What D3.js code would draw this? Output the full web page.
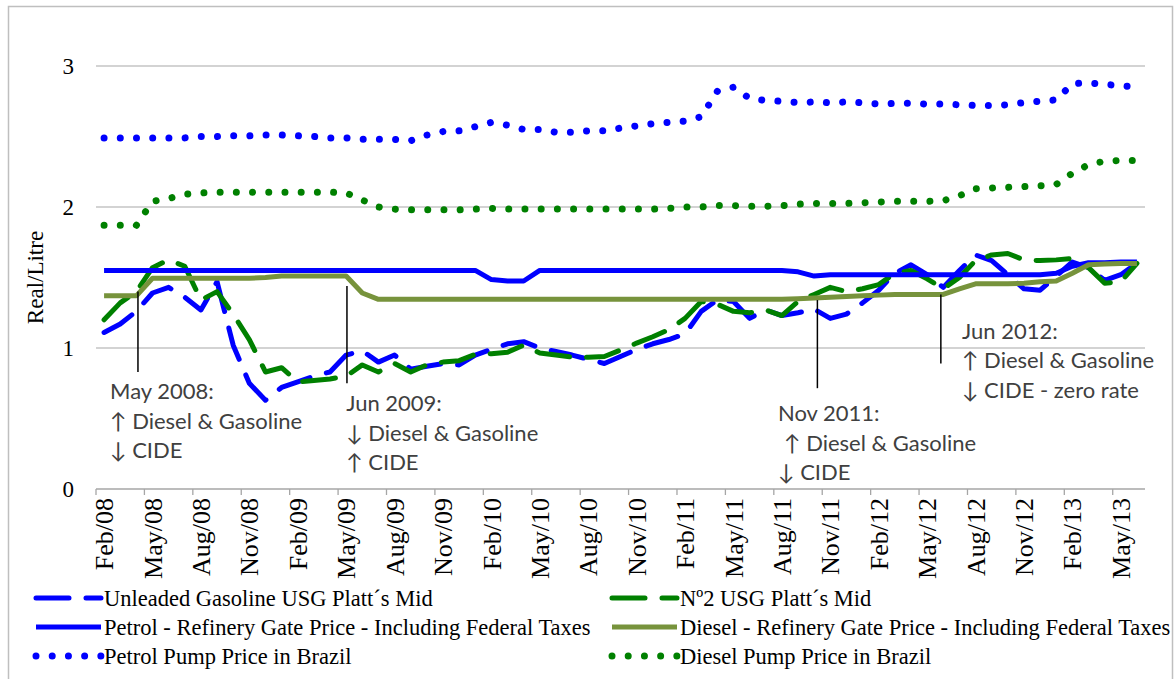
<!DOCTYPE html>
<html>
<head>
<meta charset="utf-8">
<script src="https://cdn.jsdelivr.net/npm/d3@7"></script>
<style>
  body { margin: 0; background: #fff; }
  svg { display: block; }
</style>
</head>
<body>
<svg></svg>
<script>
// Monthly categories Feb/08 .. Jun/13
const months = d3.timeMonth.range(new Date(2008, 1, 1), new Date(2013, 6, 1))
const tickLabels = ['Feb/08', 'May/08', 'Aug/08', 'Nov/08', 'Feb/09', 'May/09', 'Aug/09', 'Nov/09',
    'Feb/10', 'May/10', 'Aug/10', 'Nov/10', 'Feb/11', 'May/11', 'Aug/11', 'Nov/11',
    'Feb/12', 'May/12', 'Aug/12', 'Nov/12', 'Feb/13', 'May/13']
const yTicks = [0, 1, 2, 3]

const unleadedPlatts = [1.11, 1.17, 1.26, 1.39, 1.43, 1.36, 1.27, 1.47, 1.02, 0.75,
    0.63, 0.72, 0.76, 0.80, 0.83, 0.95, 0.98, 0.90, 0.95, 0.85,
    0.87, 0.89, 0.88, 0.95, 0.99, 1.03, 1.045, 1.00, 0.975, 0.95,
    0.92, 0.89, 0.94, 0.99, 1.03, 1.06, 1.10, 1.26, 1.34, 1.33,
    1.21, 1.27, 1.23, 1.25, 1.275, 1.21, 1.24, 1.32, 1.41, 1.53,
    1.59, 1.52, 1.43, 1.55, 1.66, 1.62, 1.52, 1.42, 1.41, 1.51,
    1.61, 1.57, 1.48, 1.52, 1.60]
const no2Platts = [1.20, 1.32, 1.40, 1.57, 1.625, 1.58, 1.34, 1.40, 1.24, 1.06,
    0.83, 0.86, 0.76, 0.77, 0.78, 0.80, 0.88, 0.83, 0.89, 0.83,
    0.88, 0.90, 0.91, 0.955, 0.96, 0.97, 1.02, 0.965, 0.95, 0.935,
    0.935, 0.94, 0.985, 1.035, 1.08, 1.13, 1.21, 1.33, 1.31, 1.26,
    1.25, 1.27, 1.23, 1.33, 1.38, 1.43, 1.40, 1.42, 1.45, 1.53,
    1.55, 1.49, 1.42, 1.50, 1.62, 1.66, 1.67, 1.625, 1.62, 1.625,
    1.635, 1.57, 1.46, 1.47, 1.60]
const petrolGate = [1.55, 1.55, 1.55, 1.55, 1.55, 1.55, 1.55, 1.55, 1.55, 1.55,
    1.55, 1.55, 1.55, 1.55, 1.55, 1.55, 1.55, 1.55, 1.55, 1.55,
    1.55, 1.55, 1.55, 1.55, 1.485, 1.475, 1.475, 1.55, 1.55, 1.55,
    1.55, 1.55, 1.55, 1.55, 1.55, 1.55, 1.55, 1.55, 1.55, 1.55,
    1.55, 1.55, 1.55, 1.54, 1.51, 1.52, 1.52, 1.52, 1.52, 1.52,
    1.52, 1.52, 1.52, 1.52, 1.52, 1.52, 1.52, 1.52, 1.52, 1.53,
    1.58, 1.605, 1.605, 1.61, 1.61]
const dieselGate = [1.37, 1.37, 1.37, 1.495, 1.495, 1.495, 1.495, 1.495, 1.495, 1.495,
    1.50, 1.51, 1.51, 1.51, 1.51, 1.51, 1.39, 1.345, 1.345, 1.345,
    1.345, 1.345, 1.345, 1.345, 1.345, 1.345, 1.345, 1.345, 1.345, 1.345,
    1.345, 1.345, 1.345, 1.345, 1.345, 1.345, 1.345, 1.345, 1.345, 1.345,
    1.345, 1.345, 1.345, 1.35, 1.355, 1.36, 1.365, 1.37, 1.375, 1.38,
    1.38, 1.38, 1.38, 1.42, 1.455, 1.455, 1.455, 1.46, 1.47, 1.475,
    1.53, 1.59, 1.595, 1.60, 1.60]
const petrolPump = [2.49, 2.49, 2.49, 2.49, 2.49, 2.49, 2.50, 2.50, 2.505, 2.505,
    2.51, 2.51, 2.505, 2.50, 2.49, 2.49, 2.48, 2.48, 2.48, 2.47,
    2.51, 2.535, 2.54, 2.57, 2.60, 2.58, 2.55, 2.55, 2.53, 2.53,
    2.54, 2.54, 2.56, 2.575, 2.59, 2.60, 2.61, 2.64, 2.82, 2.85,
    2.77, 2.755, 2.75, 2.74, 2.745, 2.74, 2.745, 2.74, 2.73, 2.735,
    2.735, 2.73, 2.73, 2.725, 2.72, 2.72, 2.725, 2.74, 2.75, 2.76,
    2.875, 2.88, 2.87, 2.86, 2.85]
const dieselPump = [1.87, 1.87, 1.87, 2.04, 2.06, 2.09, 2.10, 2.105, 2.105, 2.105,
    2.105, 2.105, 2.105, 2.105, 2.105, 2.10, 2.05, 2.00, 1.985, 1.98,
    1.98, 1.98, 1.98, 1.985, 1.99, 1.985, 1.985, 1.985, 1.985, 1.985,
    1.985, 1.985, 1.985, 1.985, 1.985, 1.99, 2.00, 2.00, 2.01, 2.01,
    2.005, 2.005, 2.01, 2.02, 2.025, 2.025, 2.025, 2.03, 2.035, 2.04,
    2.04, 2.04, 2.045, 2.08, 2.13, 2.135, 2.14, 2.145, 2.15, 2.16,
    2.24, 2.30, 2.325, 2.33, 2.33]

// annotations, placed in month-index / value units
const notes = [
    { m: 2.1, top: 1.40, bot: 0.83, tx: 0.37, ty: 0.638, lines: ['May 2008:', '↑ Diesel & Gasoline', '↓ CIDE'], indent: [0, 0, 0] },
    { m: 15.05, top: 1.44, bot: 0.75, tx: 15.0, ty: 0.553, lines: ['Jun 2009:', '↓ Diesel & Gasoline', '↑ CIDE'], indent: [0, 0, 0] },
    { m: 44.2, top: 1.34, bot: 0.715, tx: 41.76, ty: 0.482, lines: ['Nov 2011:', '↑ Diesel & Gasoline', '↓ CIDE'], indent: [0, 6, 0] },
    { m: 51.85, top: 1.38, bot: 0.89, tx: 53.16, ty: 1.064, lines: ['Jun 2012:', '↑ Diesel & Gasoline', '↓ CIDE - zero rate'], indent: [0, 0, 0] }
]

const series = [
    { name: 'Unleaded Gasoline USG Platt´s Mid', values: unleadedPlatts, color: '#0000ff', kind: 'dash' },
    { name: 'Nº2 USG Platt´s Mid', values: no2Platts, color: '#008000', kind: 'dash' },
    { name: 'Petrol - Refinery Gate Price - Including Federal Taxes', values: petrolGate, color: '#0000ff', kind: 'solid' },
    { name: 'Diesel - Refinery Gate Price - Including Federal Taxes', values: dieselGate, color: '#77933c', kind: 'solid' },
    { name: 'Petrol Pump Price in Brazil', values: petrolPump, color: '#0000ff', kind: 'dot' },
    { name: 'Diesel Pump Price in Brazil', values: dieselPump, color: '#008000', kind: 'dot' }
]

const width = 1175
const height = 679
const plotLeft = 96, plotRight = 1145, plotTop = 66, plotBottom = 489

let svg = d3.select('svg')
    .attr('width', width)
    .attr('height', height)

const fmt = d3.timeFormat('%b/%y')

let xScale = d3.scaleBand()
    .domain(months.map(fmt))
    .range([plotLeft, plotRight])
    .padding(0)
let bw = xScale.bandwidth()
// fractional month index -> pixel (for annotations)
let xIdx = d3.scaleLinear().domain([0, months.length]).range([plotLeft + bw / 2, plotRight + bw / 2])

let yScale = d3.scaleLinear()
    .domain([0, 3])
    .range([plotBottom, plotTop])

// outer chart border
svg.append('rect')
    .attr('x', 8.5).attr('y', 6.5)
    .attr('width', 1164).attr('height', 700)
    .attr('fill', 'none')
    .attr('stroke', '#bfbfbf')
    .attr('stroke-width', 1.5)

// gridlines
svg.append('g')
    .selectAll('line')
    .data(yTicks.filter(d => d > 0))
    .enter()
    .append('line')
    .attr('x1', plotLeft).attr('x2', plotRight)
    .attr('y1', d => yScale(d)).attr('y2', d => yScale(d))
    .attr('stroke', '#c4c4c4')
    .attr('stroke-width', 1.3)

// y tick labels
svg.append('g')
    .selectAll('text')
    .data(yTicks)
    .enter()
    .append('text')
    .attr('x', 74)
    .attr('y', d => yScale(d))
    .attr('dy', '0.35em')
    .attr('text-anchor', 'end')
    .style('font-family', '"Liberation Serif", serif')
    .style('font-size', '23px')
    .attr('fill', '#000')
    .text(d => d)

// y title
svg.append('text')
    .attr('transform', 'translate(35,' + ((plotTop + plotBottom) / 2) + ') rotate(-90)')
    .attr('dy', '0.35em')
    .attr('text-anchor', 'middle')
    .style('font-family', '"Liberation Serif", serif')
    .style('font-size', '23px')
    .text('Real/Litre')

// x axis line and tick marks
svg.append('line')
    .attr('x1', plotLeft).attr('x2', plotRight)
    .attr('y1', plotBottom).attr('y2', plotBottom)
    .attr('stroke', '#a6a6a6')
    .attr('stroke-width', 1.3)

let tickMonths = months.map(fmt).filter((d, i) => i % 3 === 0)
svg.append('g')
    .selectAll('line')
    .data(tickMonths)
    .enter()
    .append('line')
    .attr('x1', d => xScale(d)).attr('x2', d => xScale(d))
    .attr('y1', plotBottom).attr('y2', plotBottom + 6)
    .attr('stroke', '#a6a6a6')
    .attr('stroke-width', 1.3)

svg.append('g')
    .selectAll('text')
    .data(tickLabels)
    .enter()
    .append('text')
    .attr('transform', d => 'translate(' + (xScale(d) + bw / 2) + ',' + (plotBottom + 9) + ') rotate(-90)')
    .attr('dy', '0.35em')
    .attr('text-anchor', 'end')
    .style('font-family', '"Liberation Serif", serif')
    .style('font-size', '26px')
    .text(d => d)

// series lines
const styles = {
    dash: { w: 5, dash: '33,17' },
    solid: { w: 5, dash: null },
    dot: { w: 7, dash: '0.01,16.2' }
}

let line = d3.line()
    .x((d, i) => xScale(fmt(months[i])) + bw / 2)
    .y(d => yScale(d))

svg.append('g')
    .selectAll('path')
    .data(series)
    .enter()
    .append('path')
    .attr('d', d => line(d.values))
    .attr('fill', 'none')
    .attr('stroke', d => d.color)
    .attr('stroke-width', d => styles[d.kind].w)
    .attr('stroke-dasharray', d => styles[d.kind].dash)
    .attr('stroke-linecap', d => d.kind === 'solid' ? 'butt' : 'round')
    .attr('stroke-linejoin', 'round')

// annotations
let ann = svg.append('g')
ann.selectAll('line')
    .data(notes)
    .enter()
    .append('line')
    .attr('x1', d => xIdx(d.m)).attr('x2', d => xIdx(d.m))
    .attr('y1', d => yScale(d.top)).attr('y2', d => yScale(d.bot))
    .attr('stroke', '#000')
    .attr('stroke-width', 1.5)

ann.selectAll('text')
    .data(notes)
    .enter()
    .append('text')
    .style('font-family', 'Lato, "DejaVu Sans", sans-serif')
    .style('font-size', '22px')
    .attr('fill', '#404040')
    .each(function (d) {
        let t = d3.select(this)
        d.lines.forEach((s, k) => {
            t.append('tspan')
                .attr('x', xIdx(d.tx) + d.indent[k])
                .attr('y', yScale(d.ty) + k * 29.5)
                .text(s)
        })
    })

// legend: 2 columns x 3 rows
let legend = svg.append('g')
let items = legend.selectAll('g')
    .data(series)
    .enter()
    .append('g')
    .attr('transform', (d, i) => 'translate(' + (i % 2 === 0 ? 36 : 612) + ',' + (598 + Math.floor(i / 2) * 29) + ')')

items.append('line')
    .attr('x1', 0).attr('x2', 65)
    .attr('y1', 0).attr('y2', 0)
    .attr('stroke', d => d.color)
    .attr('stroke-width', d => styles[d.kind].w)
    .attr('stroke-dasharray', d => styles[d.kind].dash)
    .attr('stroke-linecap', d => d.kind === 'solid' ? 'butt' : 'round')

items.append('text')
    .attr('x', 68)
    .attr('y', 0)
    .attr('dy', '0.35em')
    .style('font-family', '"Liberation Serif", serif')
    .style('font-size', '22.5px')
    .text(d => d.name)
</script>
</body>
</html>
